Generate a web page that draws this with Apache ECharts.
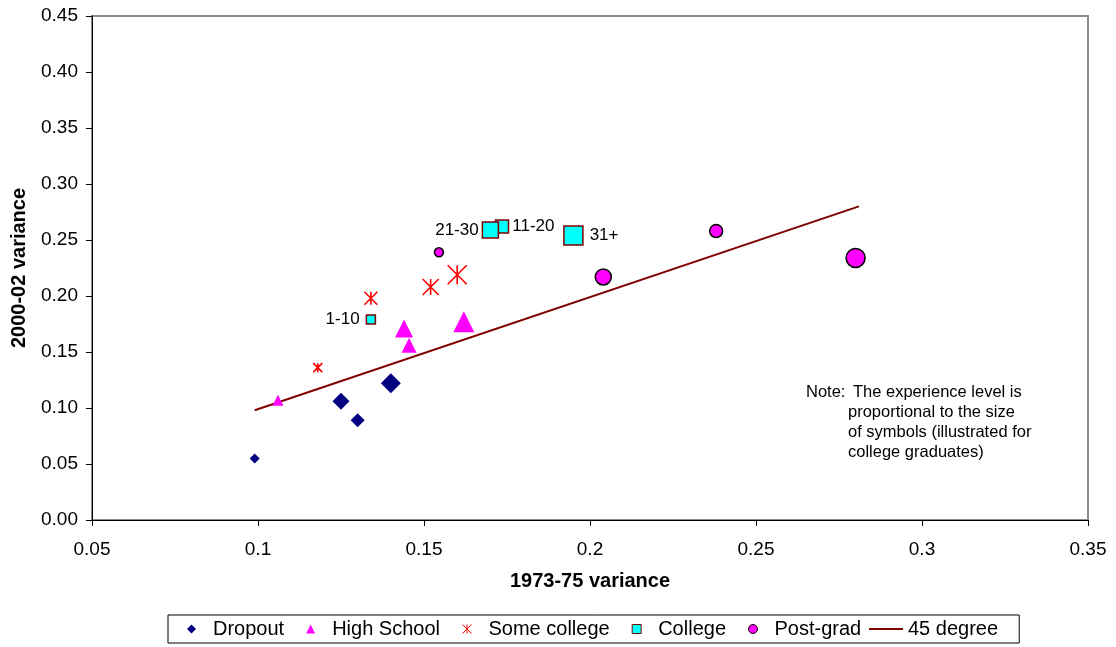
<!DOCTYPE html>
<html>
<head>
<meta charset="utf-8">
<script src="https://cdn.jsdelivr.net/npm/echarts@6/dist/echarts.min.js"></script>
<style>
    html, body { margin: 0; padding: 0; background: #fff; }
    #chart { width: 1116px; height: 647px; }
</style>
</head>
<body>
<div id="chart"></div>
<script>
// experience levels 1-10, 11-20, 21-30, 31+ (same order in every group)
var levels = [1, 2, 3, 4];
var levelNames = ['1-10', '11-20', '21-30', '31+'];

var dropoutX = [0.099, 0.130, 0.125, 0.140];
var dropoutY = [0.055, 0.089, 0.106, 0.122];
var highSchoolX = [0.106, 0.1455, 0.144, 0.162];
var highSchoolY = [0.107, 0.156, 0.171, 0.177];
var someCollegeX = [0.118, 0.134, 0.152, 0.160];
var someCollegeY = [0.136, 0.198, 0.208, 0.219];
var collegeX = [0.134, 0.1735, 0.170, 0.195];
var collegeY = [0.179, 0.262, 0.259, 0.254];
var postGradX = [0.1545, 0.238, 0.204, 0.280];
var postGradY = [0.239, 0.258, 0.217, 0.234];
var degreeX = [0.099, 0.281];
var degreeY = [0.098, 0.280];

(function () {
    var FONT = '"Liberation Sans", Arial, sans-serif';
    var chart = echarts.init(document.getElementById('chart'), null, { renderer: 'canvas' });

    var levelSize = function (lv) {
        return [9, 13, 16, 19][lv - 1];
    };
    var pairs = function (xs, ys, grow) {
        var out = [];
        for (var i = 0; i < xs.length; i++) {
            out.push({ value: [xs[i], ys[i]], symbolSize: levelSize(levels[i]) + (grow || 0) });
        }
        return out;
    };

    // college points carry the experience labels
    var labelSide = ['left', 'right', 'left', 'right'];
    var labelGap = [6, 3, 3, 6];
    var collegeData = pairs(collegeX, collegeY);
    for (var i = 0; i < collegeData.length; i++) {
        collegeData[i].label = {
            show: true,
            position: labelSide[i],
            distance: labelGap[i],
            formatter: levelNames[i],
            color: '#000',
            fontSize: 17,
            fontFamily: FONT
        };
    }

    var asterisk = 'path://M0,0L10,10M10,0L0,10M5,0L5,10';
    var dash = 'path://M0,0L32,0L32,2L0,2Z';
    var legendText = { color: '#000', fontSize: 20, fontFamily: FONT };

    var option = {
        animation: false,
        backgroundColor: '#fff',
        grid: {
            left: 92,
            right: 28,
            top: 16,
            bottom: 127,
            show: true,
            borderColor: '#8c8c8c',
            borderWidth: 2
        },
        xAxis: {
            type: 'value',
            min: 0.05,
            max: 0.35,
            interval: 0.05,
            name: '1973-75 variance',
            nameLocation: 'middle',
            nameGap: 51,
            nameTextStyle: { color: '#000', fontSize: 20, fontWeight: 'bold', fontFamily: FONT },
            axisLine: { onZero: false, lineStyle: { color: '#000', width: 1 } },
            axisTick: { length: 6, lineStyle: { color: '#000' } },
            axisLabel: { margin: 20, color: '#000', fontSize: 19, fontFamily: FONT },
            splitLine: { show: false }
        },
        yAxis: {
            type: 'value',
            min: 0,
            max: 0.45,
            interval: 0.05,
            name: '2000-02 variance',
            nameLocation: 'middle',
            nameGap: 63,
            nameTextStyle: { color: '#000', fontSize: 20, fontWeight: 'bold', fontFamily: FONT },
            axisLine: { show: true, lineStyle: { color: '#000', width: 1 } },
            axisTick: { show: true, length: 6, lineStyle: { color: '#000' } },
            axisLabel: {
                margin: 14, color: '#000', fontSize: 19, fontFamily: FONT,
                formatter: function (v) { return v.toFixed(2); }
            },
            splitLine: { show: false }
        },
        legend: [
            {
                // the framed legend, markers
                left: 168,
                top: 615,
                padding: [4, 158, 4, 19],
                borderColor: '#000',
                borderWidth: 1,
                itemWidth: 9,
                itemHeight: 9,
                itemGap: 22,
                symbolKeepAspect: true,
                textStyle: { color: '#000', fontSize: 20, fontFamily: FONT, padding: [0, 0, 0, 12] },
                itemStyle: { borderWidth: 1 },
                data: [
                    { name: 'Dropout', icon: 'diamond' },
                    { name: 'High School', icon: 'triangle' },
                    { name: 'Some college', icon: asterisk },
                    { name: 'College', icon: 'rect' },
                    { name: 'Post-grad', icon: 'circle' }
                ]
            },
            {
                // the reference line entry, inside the same frame
                left: 869,
                top: 619,
                padding: 0,
                itemWidth: 34,
                itemHeight: 9,
                symbolKeepAspect: true,
                textStyle: legendText,
                data: [{ name: '45 degree', icon: dash }]
            }
        ],
        graphic: [
            {
                type: 'text', left: 806, top: 382,
                style: { text: 'Note:', font: '16.5px ' + FONT, fill: '#000', lineHeight: 20 }
            },
            {
                type: 'text', left: 853, top: 382,
                style: { text: 'The experience level is', font: '16.5px ' + FONT, fill: '#000', lineHeight: 20 }
            },
            {
                type: 'text', left: 848, top: 402,
                style: {
                    text: 'proportional to the size\nof symbols (illustrated for\ncollege graduates)',
                    font: '16.5px ' + FONT, fill: '#000', lineHeight: 20
                }
            }
        ],
        series: [
            {
                name: '45 degree',
                type: 'line',
                symbol: 'none',
                lineStyle: { color: '#800000', width: 2 },
                itemStyle: { color: '#800000' },
                data: degreeX.map(function (x, k) { return [x, degreeY[k]]; }),
                z: 1
            },
            {
                name: 'Dropout',
                type: 'scatter',
                symbol: 'diamond',
                itemStyle: { color: '#000080', opacity: 1 },
                data: pairs(dropoutX, dropoutY, 1),
                z: 3
            },
            {
                name: 'High School',
                type: 'scatter',
                symbol: 'triangle',
                itemStyle: { color: '#ff00ff', opacity: 1 },
                data: pairs(highSchoolX, highSchoolY, 2),
                z: 3
            },
            {
                name: 'Some college',
                type: 'scatter',
                symbol: asterisk,
                itemStyle: { color: 'rgba(0,0,0,0)', borderColor: '#ff0000', borderWidth: 1.6, opacity: 1 },
                data: pairs(someCollegeX, someCollegeY),
                z: 3
            },
            {
                name: 'College',
                type: 'scatter',
                symbol: 'rect',
                itemStyle: { color: '#00ffff', borderColor: '#800000', borderWidth: 1.5, opacity: 1 },
                data: collegeData,
                z: 3
            },
            {
                name: 'Post-grad',
                type: 'scatter',
                symbol: 'circle',
                itemStyle: { color: '#ff00ff', borderColor: '#000', borderWidth: 1.5, opacity: 1 },
                data: pairs(postGradX, postGradY),
                z: 3
            }
        ]
    };
    chart.setOption(option);

    window.addEventListener('resize', function () {
        chart.resize();
    });
})();
</script>
</body>
</html>
